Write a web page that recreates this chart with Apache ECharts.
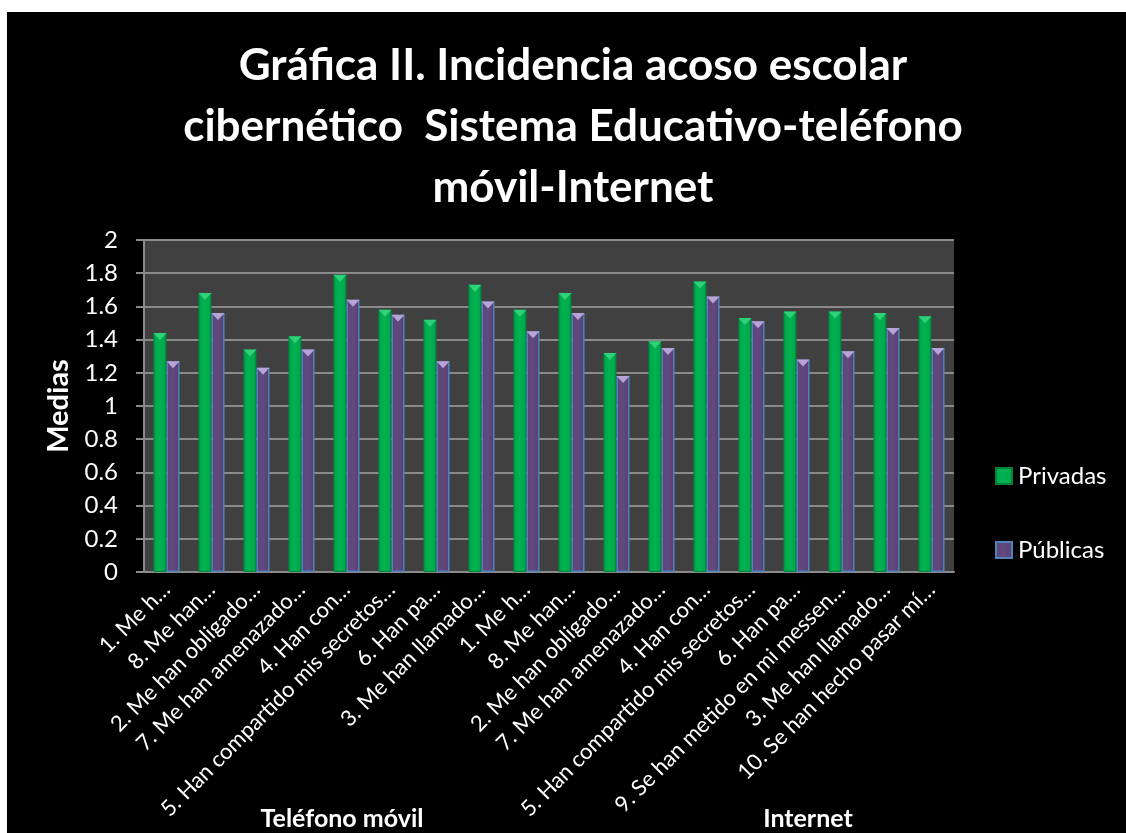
<!DOCTYPE html>
<html>
<head>
<meta charset="utf-8">
<script src="https://cdn.jsdelivr.net/npm/echarts@6/dist/echarts.min.js"></script>
<style>
html,body{margin:0;padding:0;background:#fff;width:1126px;height:833px;overflow:hidden;}
#c{position:absolute;left:7px;top:12px;width:1119px;height:821px;}
</style>
</head>
<body>
<div id="c"></div>
<script>
const titleText = "Gráfica II. Incidencia acoso escolar\ncibernético  Sistema Educativo-teléfono\nmóvil-Internet";
const categories = [
  "1. Me h…","8. Me han…","2. Me han obligado…","7. Me han amenazado…","4. Han con…",
  "5. Han compartido mis secretos…","6. Han pa…","3. Me han llamado…",
  "1. Me h…","8. Me han…","2. Me han obligado…","7. Me han amenazado…","4. Han con…",
  "5. Han compartido mis secretos…","6. Han pa…","9. Se han metido en mi messen…",
  "3. Me han llamado…","10. Se han hecho pasar mí…"
];
const groupLabels = ["Teléfono móvil", "Internet"];
const seriesNames = ["Privadas", "Públicas"];
const privadas = [1.44,1.68,1.34,1.42,1.79,1.58,1.52,1.73,1.58,1.68,1.32,1.39,1.75,1.53,1.57,1.57,1.56,1.54];
const publicas = [1.27,1.56,1.23,1.34,1.64,1.55,1.27,1.63,1.45,1.56,1.18,1.35,1.66,1.51,1.28,1.33,1.47,1.35];
const yTicks = {min: 0, max: 2, interval: 0.2};

const FONT = "Lato, 'Open Sans', sans-serif";
const chart = echarts.init(document.getElementById('c'));

const greenFill = new echarts.graphic.LinearGradient(0,0,1,0,[
  {offset:0,color:'#00a24a'},{offset:0.45,color:'#00b351'},{offset:0.85,color:'#00a84c'},{offset:1,color:'#007a36'}]);
const purpleFill = new echarts.graphic.LinearGradient(0,0,1,0,[
  {offset:0,color:'#5a4578'},{offset:0.5,color:'#62497f'},{offset:1,color:'#553f72'}]);

const common = {barGap:'0%', barCategoryGap:'42%'};

chart.setOption({
  backgroundColor:'#000',
  animation:false,
  textStyle:{fontFamily:FONT},
  grid:{left:137, top:228, right:172, bottom:261, show:true, backgroundColor:'#404040', borderWidth:0},
  legend:{
    data: seriesNames,
    orient:'vertical', left:988, top:452, itemGap:50, padding:0,
    itemWidth:16, itemHeight:16, icon:'rect',
    textStyle:{color:'#fff', fontSize:24, fontFamily:FONT, padding:[0,0,0,1]}
  },
  xAxis:{
    type:'category', data:categories,
    axisLine:{lineStyle:{color:'#8a8a8a', width:2}},
    axisTick:{show:false},
    axisLabel:{rotate:45, color:'#fff', fontSize:22, margin:14, interval:0, fontFamily:FONT}
  },
  yAxis:{
    type:'value', min:yTicks.min, max:yTicks.max, interval:yTicks.interval,
    name:'Medias', nameLocation:'middle', nameGap:67,
    nameTextStyle:{color:'#fff', fontSize:29, fontWeight:'bold', fontFamily:FONT},
    axisLine:{show:true, lineStyle:{color:'#8a8a8a', width:2}},
    axisTick:{show:true, length:8, lineStyle:{color:'#8a8a8a', width:2}},
    axisLabel:{color:'#fff', fontSize:24, margin:26, fontFamily:FONT},
    splitLine:{lineStyle:{color:'#8a8a8a', width:2}}
  },
  series:[
    Object.assign({name:seriesNames[0], type:'bar', data:privadas,
      itemStyle:{color:greenFill, borderColor:'#00843c', borderWidth:1}}, common),
    Object.assign({name:seriesNames[1], type:'bar', data:publicas,
      itemStyle:{color:purpleFill, borderColor:'#4f81bd', borderWidth:1.5}}, common),
    Object.assign({name:'capP', type:'pictorialBar', data:privadas, z:5,
      symbol:'path://M0,0 L10,0 L5,6 Z', symbolPosition:'end', symbolSize:['100%',7],
      itemStyle:{color:'#2fd27a'}, silent:true}, common),
    Object.assign({name:'capQ', type:'pictorialBar', data:publicas, z:5,
      symbol:'path://M0,0 L10,0 L5,6 Z', symbolPosition:'end', symbolSize:['100%',7],
      itemStyle:{color:'#b7a3d6'}, silent:true}, common)
  ],
  graphic:[
    {type:'text', x:566, y:23, style:{text:titleText, fill:'#fff', font:"bold 44px "+FONT, textAlign:'center', textVerticalAlign:'top', lineHeight:61}},
    {type:'text', x:335, y:807, style:{text:groupLabels[0], fill:'#fff', font:"bold 25px "+FONT, textAlign:'center', textVerticalAlign:'middle'}},
    {type:'text', x:801, y:807, style:{text:groupLabels[1], fill:'#fff', font:"bold 25px "+FONT, textAlign:'center', textVerticalAlign:'middle'}}
  ]
});
</script>
</body>
</html>
